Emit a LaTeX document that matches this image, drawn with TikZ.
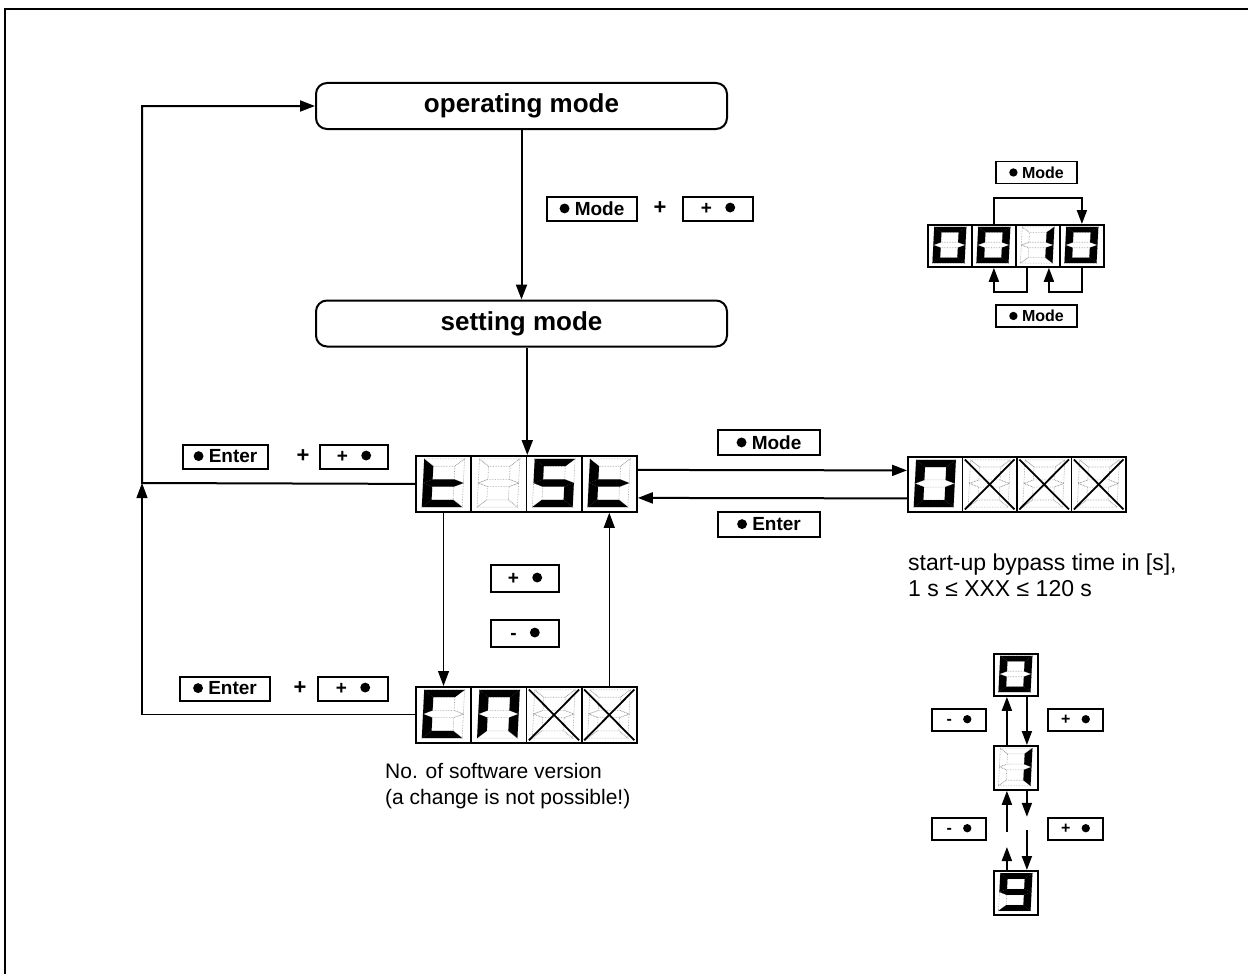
\documentclass[tikz,border=0pt]{standalone}
\usepackage{fontspec}
\setmainfont{Liberation Sans}
\usetikzlibrary{arrows.meta,calc}

% seven segment shapes in a unit cell (y up)
\def\sega{(0.12,0.93)--(0.85,0.93)--(0.68,0.80)--(0.29,0.80)--cycle}
\def\segd{(0.12,0.07)--(0.85,0.07)--(0.68,0.20)--(0.29,0.20)--cycle}
\def\segf{(0.12,0.93)--(0.29,0.80)--(0.29,0.565)--(0.12,0.50)--cycle}
\def\sege{(0.12,0.50)--(0.29,0.435)--(0.29,0.20)--(0.12,0.07)--cycle}
\def\segb{(0.85,0.93)--(0.85,0.50)--(0.68,0.565)--(0.68,0.80)--cycle}
\def\segc{(0.85,0.50)--(0.85,0.07)--(0.68,0.20)--(0.68,0.435)--cycle}
\def\segg{(0.12,0.50)--(0.29,0.565)--(0.68,0.565)--(0.85,0.50)--(0.68,0.435)--(0.29,0.435)--cycle}
\def\segx{(0.5,0.5)}

\newcommand\bdot{\tikz[baseline=-0.36em]\fill (0,0) circle (0.26em);}

\tikzset{
  cellbox/.style={draw, line width=1.8pt, inner sep=0pt, fill=white},
  segoff/.style={draw=black!40, densely dotted, line width=0.6pt},
  segon/.style={fill=black},
  crossline/.style={line width=1.8pt},
  arr/.style={line width=2pt, -{Triangle[length=15pt,width=11pt]}},
  arrthin/.style={line width=1.1pt, -{Triangle[length=15pt,width=11pt]}},
  modebox/.style={draw, line width=2pt, rounded corners=11pt, inner sep=0pt,
    minimum width=411pt, minimum height=46pt, font=\bfseries\fontsize{26}{30}\selectfont},
  btn/.style={draw, line width=2pt, inner sep=0pt, minimum height=24pt,
    font=\bfseries\fontsize{19}{19}\selectfont},
  sbtn/.style={draw, line width=1.8pt, inner sep=0pt, minimum height=22pt,
    font=\bfseries\fontsize{16}{16}\selectfont},
  plus/.style={font=\bfseries\fontsize{22}{22}\selectfont, inner sep=0pt},
  txt/.style={font=\fontsize{23}{26}\selectfont, inner sep=0pt, anchor=base west},
  txtb/.style={font=\fontsize{21}{26}\selectfont, inner sep=0pt, anchor=base west},
  sarr/.style={line width=1.9pt, -{Triangle[length=14pt,width=10pt]}}
}

% #1 name, #2 x, #3 y (top-left, px), #4 w, #5 h, #6 active segments
\newcommand\dcell[6]{%
  \node[cellbox, minimum width=#4pt, minimum height=#5pt, anchor=north west] (#1) at (#2,#3) {};
  \begin{scope}[shift={({#2},{#3+#5})}, x=#4pt, y=#5pt, xslant=0.05]
    \foreach \s in {a,b,c,d,e,f,g}{\edef\tmp{\csname seg\s\endcsname}\draw[segoff] \tmp;}
    \foreach \s in {#6}{\edef\tmp{\csname seg\s\endcsname}\fill[segon] \tmp;}
  \end{scope}}
\newcommand\xcross[1]{%
  \draw[crossline] ($(#1.north west)!0.06!(#1.south east)$) -- ($(#1.north west)!0.94!(#1.south east)$);
  \draw[crossline] ($(#1.north east)!0.06!(#1.south west)$) -- ($(#1.north east)!0.94!(#1.south west)$);}

\begin{document}
\begin{tikzpicture}[x=1pt,y=-1pt]
\useasboundingbox (0,0) rectangle (1248,974);
% frame
\draw[line width=1.5pt] (5,974) -- (5,9) -- (1248,9);

% mode boxes
\node[modebox] (op) at (521.5,106) {operating mode};
\node[modebox] (set) at (521.5,323.5) {setting mode};
\draw[arr] (op.south) -- (set.north);

\node[btn, minimum width=90pt] (bm1) at (592,208.5) {\bdot\ Mode};
\node[plus] (pl1) at (660,208.5) {+};
\node[btn, minimum width=70pt] (bp1) at (718,208.5) {+\hspace{0.7em}\bdot};

% test display
\dcell{t1}{415}{455}{55.25}{56}{d,e,f,g}
\dcell{t2}{470.25}{455}{55.25}{56}{x}
\dcell{t3}{525.5}{455}{55.25}{56}{a,f,g,c,d}
\dcell{t4}{580.75}{455}{55.25}{56}{d,e,f,g}

\draw[arr] (set.south -| t2.north east) -- (t2.north east);

% left return
\coordinate (lft) at (142,483);
\draw[arr] (t1.west) -- (lft) |- (op.west);
\node[btn, minimum width=85pt] (be1) at (225.5,456.5) {\bdot\ Enter};
\node[plus] (pl2) at (303,456.5) {+};
\node[btn, minimum width=68pt] (bp2) at (354,456.5) {+\hspace{0.7em}\bdot};

% 0XXX display
\dcell{z1}{907}{456}{54.5}{55}{a,b,c,d,e,f}
\dcell{z2}{961.5}{456}{54.5}{55}{x}
\dcell{z3}{1016}{456}{54.5}{55}{x}
\dcell{z4}{1070.5}{456}{54.5}{55}{x}
\xcross{z2}\xcross{z3}\xcross{z4}

\draw[arr] ([yshift=14pt]t4.east) -- ([yshift=14pt]z1.west);
\draw[arr] ([yshift=-14pt]z1.west) -- ([yshift=-14pt]t4.east);
\node[btn, minimum width=102pt, minimum height=25pt] (bm2) at (769,442.5) {\bdot\ Mode};
\node[btn, minimum width=102pt, minimum height=25pt] (be2) at (769,524.5) {\bdot\ Enter};

\node[txt] (tx1) at (908,570) {start-up bypass time in [s],};
\node[txt] (tx2) at (908,596) {1 s ≤ XXX ≤ 120 s};

% CAXX display
\dcell{c1}{415}{686}{55.25}{56}{a,f,e,d}
\dcell{c2}{470.25}{686}{55.25}{56}{a,b,c,e,f}
\dcell{c3}{525.5}{686}{55.25}{56}{x}
\dcell{c4}{580.75}{686}{55.25}{56}{x}
\xcross{c3}\xcross{c4}

\draw[arrthin] (t1.south) -- (c1.north);
\draw[arrthin] (c4.north) -- (t4.south);
\node[btn, minimum width=68pt, minimum height=27pt] (bp3) at (525,578.5) {+\hspace{0.7em}\bdot};
\node[btn, minimum width=68pt, minimum height=27pt] (bn3) at (525,633.5) {-\hspace{0.7em}\bdot};

\draw[arrthin] (c1.west) -| (lft);
\node[btn, minimum width=90pt] (be3) at (225,688.5) {\bdot\ Enter};
\node[plus] (pl3) at (300,688.5) {+};
\node[btn, minimum width=70pt] (bp4) at (353,688.5) {+\hspace{0.7em}\bdot};

\node[txtb] (tx3) at (385,778) {No. of software version};
\node[txtb] (tx4) at (385,804) {(a change is not possible!)};

% top-right example
\dcell{r1}{927}{224}{44}{42}{a,b,c,d,e,f}
\dcell{r2}{971}{224}{44}{42}{a,b,c,d,e,f}
\dcell{r3}{1015}{224}{44}{42}{b,c}
\dcell{r4}{1059}{224}{44}{42}{a,b,c,d,e,f}
\draw[sarr] (r2.north) -- ++(0,-26) -| (r4.north);
\draw[sarr] ([xshift=-11pt]r3.south) -- ++(0,24) -| (r2.south);
\draw[sarr] (r4.south) -- ++(0,24) -| ([xshift=11pt]r3.south);
\node[sbtn, minimum width=81pt] (rm1) at (1036.5,172.5) {\bdot\ Mode};
\node[sbtn, minimum width=81pt] (rm2) at (1036.5,316) {\bdot\ Mode};

% bottom-right example
\dcell{b0}{993}{653}{44}{42}{a,b,c,d,e,f}
\dcell{b1}{993}{745}{44}{44}{b,c}
\dcell{b9}{993}{870}{44}{44}{a,b,c,d,f,g}
\draw[sarr] ([xshift=-9pt]b1.north) -- ([xshift=-9pt]b0.south);
\draw[sarr] ([xshift=11pt]b0.south) -- ([xshift=11pt]b1.north);
\draw[sarr] ([xshift=-9pt,yshift=-41pt]b1.south) -- ([xshift=-9pt]b1.south);
\draw[sarr] ([xshift=-9pt]b9.north) -- ++(0,-23);
\draw[sarr] ([xshift=11pt]b1.south) -- ++(0,26);
\draw[sarr] ([xshift=11pt,yshift=40pt]b9.north) -- ([xshift=11pt]b9.north);
\node[sbtn, minimum width=54pt] (bl1) at (959,720) {-\hspace{0.7em}\bdot};
\node[sbtn, minimum width=54pt] (bl2) at (959,829) {-\hspace{0.7em}\bdot};
\node[sbtn, minimum width=55pt] (br1) at (1075.5,720) {+\hspace{0.7em}\bdot};
\node[sbtn, minimum width=55pt] (br2) at (1075.5,829) {+\hspace{0.7em}\bdot};
\end{tikzpicture}
\end{document}
